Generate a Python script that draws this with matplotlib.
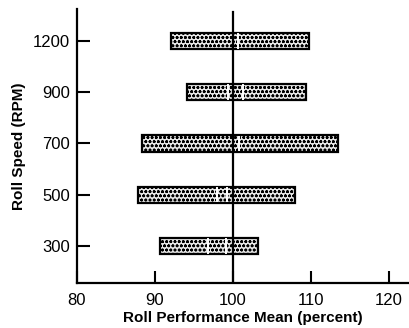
import matplotlib
matplotlib.use("Agg")
import matplotlib.pyplot as plt

# roll speed categories, bottom to top
speeds = ["300", "500", "700", "900", "1200"]
# range of the performance mean for each speed (percent)
low = [90.6, 87.8, 88.4, 94.1, 92.1]
high = [103.2, 107.9, 113.4, 109.4, 109.7]
# split points inside each bar
splits = [[96.8, 99.1], [98.0, 99.2], [100.8], [99.4, 101.3], [100.6]]

plt.rcParams["font.family"] = ["Liberation Sans", "DejaVu Sans"]
plt.rcParams["hatch.linewidth"] = 0.8
plt.rcParams["hatch.color"] = "#4a4a4a"

fig = plt.figure(figsize=(4.09, 3.28), dpi=100)
ax = fig.add_axes([0.188, 0.137, 0.812, 0.836])

ypos = list(range(len(speeds)))
widths = [h - l for l, h in zip(low, high)]
ax.barh(ypos, widths, left=low, height=0.32, color="#e8e8e8",
        edgecolor="black", linewidth=1.6, hatch="oooo", zorder=2)

for y, xs in zip(ypos, splits):
    for x in xs:
        ax.plot([x, x], [y - 0.13, y + 0.13], color="white", lw=1.4,
                zorder=3)

ax.axvline(100, ymax=0.989, color="black", lw=1.6, zorder=4)

ax.set_xlim(80, 122.56)
ax.set_ylim(-0.722, 4.624)
ax.set_xticks([80, 90, 100, 110, 120])
ax.set_yticks(ypos)
ax.set_yticklabels(speeds)

for s in ["top", "right"]:
    ax.spines[s].set_visible(False)
for s in ["left", "bottom"]:
    ax.spines[s].set_linewidth(1.6)

ax.tick_params(axis="both", direction="in", length=9, width=1.5,
               labelsize=12, pad=5)
ax.tick_params(axis="x", pad=7)

ax.set_xlabel("Roll Performance Mean (percent)", fontsize=11,
              fontweight="bold", labelpad=2)
ax.set_ylabel("Roll Speed (RPM)", fontsize=11, fontweight="bold",
              labelpad=5)

fig.savefig("out.png", dpi=100)
